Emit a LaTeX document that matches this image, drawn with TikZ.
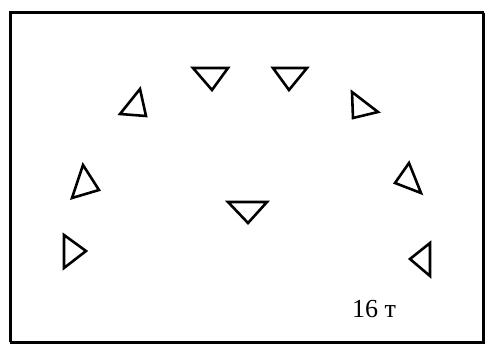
\documentclass[tikz,border=0pt]{standalone}
\usepackage{fontspec}
\newfontfamily\labelfont{Liberation Serif}
\begin{document}
\begin{tikzpicture}[x=1pt,y=-1pt,
  tri/.style={draw=black,line width=2.6pt,line join=miter},
  thickside/.style={draw=black,line width=3pt},
  thinside/.style={draw=black,line width=2.2pt},
  lbl/.style={font=\labelfont\fontsize{26}{26}\selectfont,inner sep=0pt}]
\useasboundingbox (0,0) rectangle (487,344);
\coordinate (tl) at (10,13);
\coordinate (tr) at (483.5,13);
\coordinate (br) at (483.5,342.5);
\coordinate (bl) at (10,342.5);
\draw[thinside] (tr) -- (br) -- (bl);
\draw[thickside] (bl) -- (tl) -- (tr);
% triangles
\draw[tri] (193,68) -- (228,68) -- (212,90) -- cycle;
\draw[tri] (273,68) -- (307,68) -- (289,90) -- cycle;
\draw[tri] (140,89) -- (120,114) -- (146,116) -- cycle;
\draw[tri] (352,92) -- (353,118) -- (378,112) -- cycle;
\draw[tri] (83,165) -- (72,198) -- (99,190) -- cycle;
\draw[tri] (64,235) -- (64,268) -- (86,251) -- cycle;
\draw[tri] (409,163) -- (395,183) -- (421,193) -- cycle;
\draw[tri] (430,243) -- (410,259) -- (430,276) -- cycle;
\draw[tri] (228,202) -- (267,202) -- (248,223) -- cycle;
\node[lbl,anchor=base west] (t) at (352,318) {16 т};
\end{tikzpicture}
\end{document}
